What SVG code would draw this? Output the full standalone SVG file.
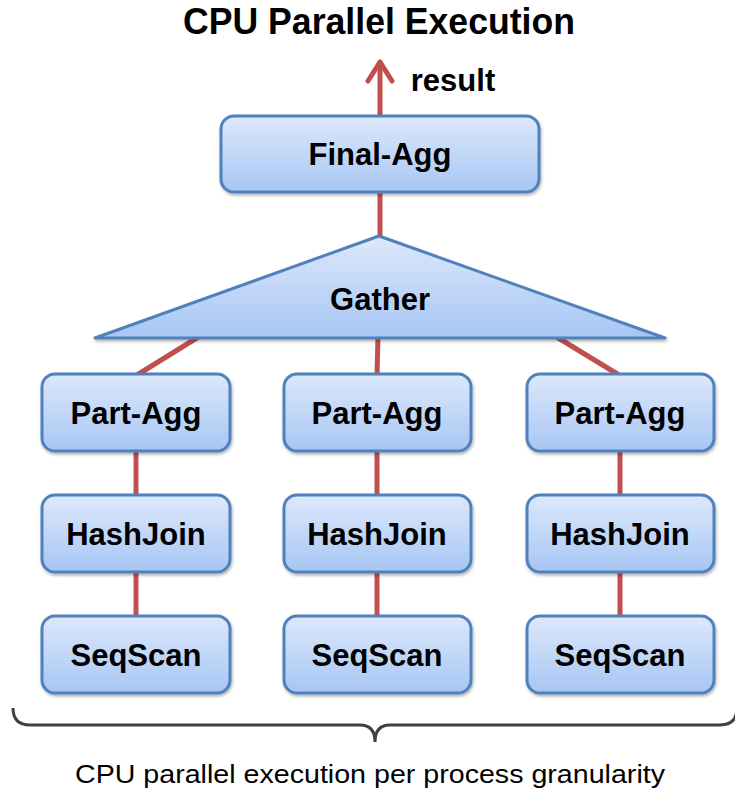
<svg xmlns="http://www.w3.org/2000/svg" width="735" height="791" viewBox="0 0 735 791">
  <defs>
    <linearGradient id="boxFill" x1="0" y1="0" x2="0" y2="1">
      <stop offset="0" stop-color="#DDE8FB"/>
      <stop offset="1" stop-color="#A7C6F4"/>
    </linearGradient>
    <filter id="shadow" x="-10%" y="-10%" width="120%" height="130%">
      <feDropShadow dx="1" dy="2" stdDeviation="1.5" flood-color="#000" flood-opacity="0.3"/>
    </filter>
    <style>
      .box { fill: url(#boxFill); stroke: #4F81BD; stroke-width: 3; filter: url(#shadow); }
      .label { font-family: "Liberation Sans", Arial, sans-serif; font-weight: bold; font-size: 31px; fill: #000; text-anchor: middle; }
      .edge { stroke: #C0504D; stroke-width: 5; fill: none; }
      .title { font-family: "Liberation Sans", Arial, sans-serif; font-weight: bold; font-size: 36px; fill: #000; text-anchor: middle; }
      .caption { font-family: "Liberation Sans", Arial, sans-serif; font-size: 25px; fill: #000; text-anchor: middle; }
      .brace { stroke: #404040; stroke-width: 3; fill: none; }
    </style>
  </defs>

  <rect width="735" height="791" fill="#fff"/>

  <text class="title" x="379" y="34" textLength="392" lengthAdjust="spacingAndGlyphs">CPU Parallel Execution</text>

  <!-- connectors -->
  <g id="connectors">
    <path class="edge" d="M380 116 V61"/>
    <path class="edge" d="M368 81 L380 62 L392 81" stroke-linecap="round" stroke-linejoin="round"/>
    <path class="edge" d="M380 192 V240"/>
    <path class="edge" d="M200 336 L137 375"/>
    <path class="edge" d="M378 336 L377 375"/>
    <path class="edge" d="M555 336 L619 375"/>
    <path class="edge" d="M136 451 V496"/>
    <path class="edge" d="M136 572 V617"/>
    <path class="edge" d="M377 451 V496"/>
    <path class="edge" d="M377 572 V617"/>
    <path class="edge" d="M620 451 V496"/>
    <path class="edge" d="M620 572 V617"/>
  </g>

  <text class="label" x="453" y="91">result</text>

  <g id="final-agg">
    <rect class="box" x="221" y="116" width="318" height="76" rx="13"/>
    <text class="label" x="380" y="165">Final-Agg</text>
  </g>

  <g id="gather">
    <polygon class="box" points="379,236 665,338 95,338" stroke-linejoin="round"/>
    <text class="label" x="380" y="310">Gather</text>
  </g>

  <g id="part-agg-1">
    <rect class="box" x="42" y="374" width="188" height="77" rx="13"/>
    <text class="label" x="136" y="424">Part-Agg</text>
  </g>
  <g id="part-agg-2">
    <rect class="box" x="284" y="374" width="187" height="77" rx="13"/>
    <text class="label" x="377" y="424">Part-Agg</text>
  </g>
  <g id="part-agg-3">
    <rect class="box" x="527" y="374" width="187" height="77" rx="13"/>
    <text class="label" x="620" y="424">Part-Agg</text>
  </g>

  <g id="hashjoin-1">
    <rect class="box" x="42" y="495" width="188" height="77" rx="13"/>
    <text class="label" x="136" y="545">HashJoin</text>
  </g>
  <g id="hashjoin-2">
    <rect class="box" x="284" y="495" width="187" height="77" rx="13"/>
    <text class="label" x="377" y="545">HashJoin</text>
  </g>
  <g id="hashjoin-3">
    <rect class="box" x="527" y="495" width="187" height="77" rx="13"/>
    <text class="label" x="620" y="545">HashJoin</text>
  </g>

  <g id="seqscan-1">
    <rect class="box" x="42" y="616" width="188" height="77" rx="13"/>
    <text class="label" x="136" y="666">SeqScan</text>
  </g>
  <g id="seqscan-2">
    <rect class="box" x="284" y="616" width="187" height="77" rx="13"/>
    <text class="label" x="377" y="666">SeqScan</text>
  </g>
  <g id="seqscan-3">
    <rect class="box" x="527" y="616" width="187" height="77" rx="13"/>
    <text class="label" x="620" y="666">SeqScan</text>
  </g>

  <!-- curly brace under the three columns -->
  <path class="brace" d="M13 708 Q13 725 30 725 H360 Q375 725 375 742 Q375 725 390 725 H720 Q737 725 737 708"/>

  <text class="caption" x="370" y="783" textLength="590" lengthAdjust="spacingAndGlyphs">CPU parallel execution per process granularity</text>
</svg>
